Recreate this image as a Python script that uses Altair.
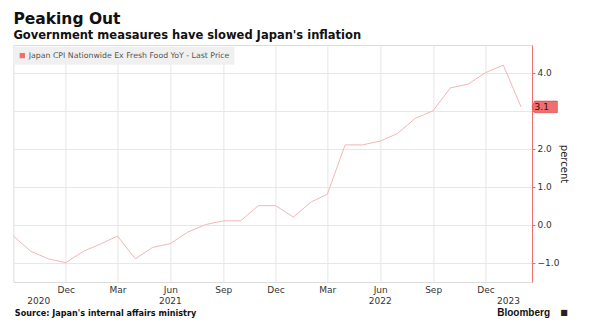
import altair as alt
import pandas as pd

# ---------------- data ----------------
SERIES = "Japan CPI Nationwide Ex Fresh Food YoY - Last Price"
months = [
    "2020-09", "2020-10", "2020-11", "2020-12",
    "2021-01", "2021-02", "2021-03", "2021-04", "2021-05", "2021-06",
    "2021-07", "2021-08", "2021-09", "2021-10", "2021-11", "2021-12",
    "2022-01", "2022-02", "2022-03", "2022-04", "2022-05", "2022-06",
    "2022-07", "2022-08", "2022-09", "2022-10", "2022-11", "2022-12",
    "2023-01", "2023-02",
]
values = [
    -0.3, -0.7, -0.9, -1.0,
    -0.7, -0.5, -0.3, -0.9, -0.6, -0.5,
    -0.2, 0.0, 0.1, 0.1, 0.5, 0.5,
    0.2, 0.6, 0.8, 2.1, 2.1, 2.2,
    2.4, 2.8, 3.0, 3.6, 3.7, 4.0,
    4.2, 3.1,
]
tick_months = ["2020-12", "2021-03", "2021-06", "2021-09", "2021-12",
               "2022-03", "2022-06", "2022-09", "2022-12"]
y_ticks = [-1, 0, 1, 2, 3, 4]
year_labels = ["2020", "2021", "2022", "2023"]
year_label_dates = ["2020-10-15", "2021-06-01", "2022-06-01", "2023-01-10"]

TITLE = "Peaking Out"
SUBTITLE = "Government measaures have slowed Japan's inflation"
SOURCE = "Source: Japan's internal affairs ministry"
BRAND = "Bloomberg"

# ---------------- frames ----------------
df = pd.DataFrame({
    "date": [m + "-01T00:00:00" for m in months],
    "value": values,
    "series": SERIES,
})
last = df.tail(1).copy()
last["label"] = last["value"].map(lambda v: f"{v:.1f}")
years_df = pd.DataFrame({"date": [d + "T00:00:00" for d in year_label_dates],
                         "year": year_labels})

def dt(s):
    parts = s.split("-")
    d = int(parts[2]) if len(parts) == 3 else 1
    return alt.DateTime(year=int(parts[0]), month=int(parts[1]), date=d)

W, H = 518.6, 237
RED = "#ef6f6f"
LINE = "#f4b6b6"
GRID = "#e9e6e6"
FONT = "DejaVu Sans"

xscale = alt.Scale(domain=[dt("2020-09-01"), dt("2023-02-20")])
yscale = alt.Scale(domain=[-1.51, 4.73], nice=False, zero=False)

x_axis = alt.Axis(values=[dt(m) for m in tick_months], format="%b", title=None,
                  domain=False, ticks=False, grid=True, gridColor=GRID,
                  labelFont=FONT, labelFontSize=9, labelColor="#333",
                  labelPadding=3)
# the 3.0 label sits under the last-price flag in the reference
y_axis = alt.Axis(orient="right", values=y_ticks, format=".1f", title="percent",
                  labelExpr="datum.value == 3 ? '' : format(datum.value, '.1f')",
                  domainColor=RED, tickColor=RED, tickSize=3, grid=True,
                  gridColor=GRID, labelFont=FONT, labelFontSize=9,
                  labelColor="#333", labelPadding=2, titleFont=FONT,
                  titleFontSize=10, titleFontWeight="normal", titleColor="#222",
                  titlePadding=0)

line = alt.Chart(df).mark_line(color=LINE, strokeWidth=1).encode(
    x=alt.X("date:T", scale=xscale, axis=x_axis),
    y=alt.Y("value:Q", scale=yscale, axis=y_axis),
)

flag_path = "M-1,0 L-0.8,-0.46 L1,-0.46 L1,0.46 L-0.8,0.46 Z"
flag = alt.Chart(last).mark_point(shape=flag_path, filled=True, size=640,
                                  opacity=1, stroke="#cc4444",
                                  strokeWidth=0.6).encode(
    x=alt.value(W + 12.7),
    y=alt.Y("value:Q", scale=yscale),
    color=alt.Color("series:N", scale=alt.Scale(domain=[SERIES], range=[RED]),
                    legend=alt.Legend(title=None, orient="none", legendX=0,
                                      legendY=1.7, fillColor="#f0f0f0",
                                      padding=5, symbolType="square",
                                      symbolSize=28, symbolStrokeWidth=0,
                                      labelFont=FONT, labelFontSize=7.8,
                                      labelColor="#555", labelOffset=2.5,
                                      labelLimit=400)),
)
flag_text = alt.Chart(last).mark_text(align="left", baseline="middle",
                                      font=FONT, fontSize=9, color="#3a0d0d",
                                      dy=0.5).encode(
    x=alt.value(W + 2.6),
    y=alt.Y("value:Q", scale=yscale),
    text="label:N",
)

years = alt.Chart(years_df).mark_text(align="center", baseline="middle",
                                      font=FONT, fontSize=9,
                                      color="#333").encode(
    x=alt.X("date:T", scale=xscale),
    y=alt.value(H + 19),
    text="year:N",
)

source = alt.Chart(pd.DataFrame({"t": [SOURCE]})).mark_text(
    align="left", baseline="middle", font=FONT, fontSize=8.1,
    fontWeight="bold", color="#111").encode(
    x=alt.value(1.4), y=alt.value(H + 32), text="t:N")

brand = alt.Chart(pd.DataFrame({"t": [BRAND]})).mark_text(
    align="right", baseline="middle", font="Liberation Sans", fontSize=10,
    fontWeight="bold", color="#111").encode(
    x=alt.value(W + 18), y=alt.value(H + 31), text="t:N")

icon = alt.Chart(pd.DataFrame({"t": ["■"]})).mark_text(
    align="center", baseline="middle", font=FONT, fontSize=8,
    color="#222").encode(
    x=alt.value(W + 32), y=alt.value(H + 31), text="t:N")

chart = alt.layer(line, flag, flag_text, years, source, brand, icon).properties(
    width=W, height=H,
    autosize=alt.AutoSizeParams(type="none"),
    padding={"left": 13.4, "top": 45, "right": 58, "bottom": 48},
    title=alt.Title(TITLE, subtitle=SUBTITLE, anchor="start", frame="group",
                    font=FONT, fontSize=15.5, fontWeight="bold", color="#111",
                    subtitleFont=FONT, subtitleFontSize=11.5,
                    subtitleFontWeight="bold", subtitleColor="#111",
                    subtitlePadding=2, offset=4),
).configure_view(stroke=None).configure(background="white")

chart.save("out.html", embed_options={"renderer": "svg", "actions": False})
